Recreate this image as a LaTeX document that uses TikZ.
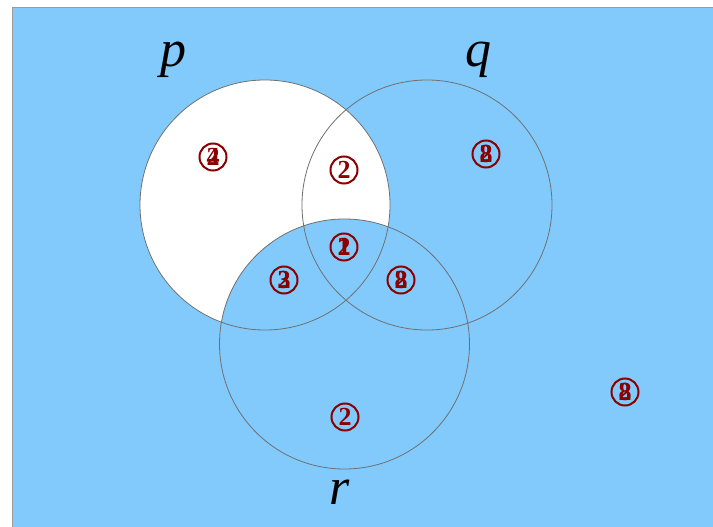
\documentclass[tikz,border=0pt]{standalone}
\usepackage{fontspec}
\setmainfont{Liberation Serif}
\definecolor{bgblue}{RGB}{130,202,252}
\definecolor{lab}{RGB}{139,0,0}
\definecolor{ring}{RGB}{112,112,112}
\tikzset{
  setcirc/.style={circle, draw=ring, line width=0.8pt, minimum size=250pt, inner sep=0pt},
  lbl/.style={circle, draw=lab, text=lab, line width=2pt, minimum size=27pt, inner sep=0pt,
              font=\fontsize{26}{26}\selectfont\bfseries},
  setname/.style={font=\fontsize{52}{52}\selectfont\itshape}
}
\newcommand{\ovl}[2]{\ooalign{\hfil#1\hfil\cr\hfil#2\hfil\cr}}
\begin{document}
\begin{tikzpicture}[x=1pt,y=-1pt]
\useasboundingbox (0,0) rectangle (713,527);
\fill[white] (0,0) rectangle (713,527);
\fill[bgblue] (12,8) rectangle (714,528);
\draw[ring!70, line width=1pt] (12,528) -- (12,8) -- (714,8);
% fills
\fill[white] (265,205) circle (125);
\fill[bgblue] (344.5,344) circle (125);
% set circles
\node[setcirc] (P) at (265,205) {};
\node[setcirc] (Q) at (427,205) {};
\node[setcirc] (R) at (344.5,344) {};
% set names
\node[setname] (pn) at (173,60) {p};
\node[setname] (qn) at (478,60) {q};
\node[setname] (rn) at (340,492) {r};
% region labels
\node[lbl] (l1) at (213,157) {\ovl{2}{4}};
\node[lbl] (l2) at (344,170) {2};
\node[lbl] (l3) at (486,154) {\ovl{2}{8}};
\node[lbl] (l4) at (344,247) {\ovl{2}{1}};
\node[lbl] (l5) at (284,280) {\ovl{2}{3}};
\node[lbl] (l6) at (401,280) {\ovl{2}{8}};
\node[lbl] (l7) at (345,417) {2};
\node[lbl] (l8) at (625,392) {\ovl{2}{8}};
\end{tikzpicture}
\end{document}
